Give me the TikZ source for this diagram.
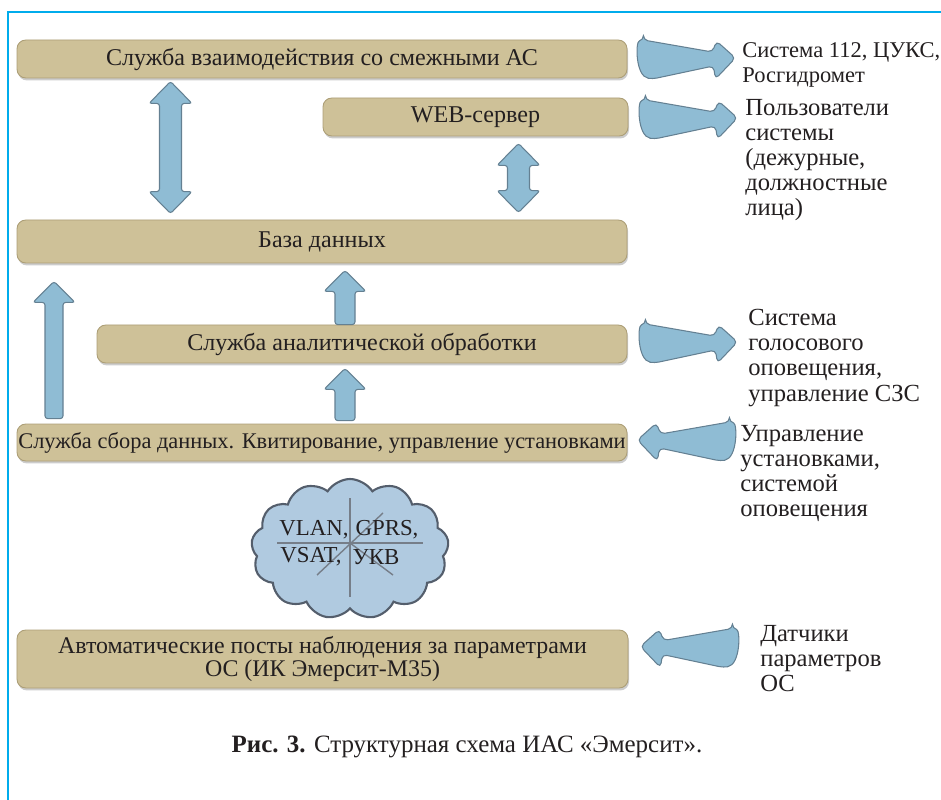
\documentclass[tikz,border=0pt]{standalone}
\usepackage{fontspec}
\setmainfont{Liberation Serif}
\usepackage{tikz}
\usetikzlibrary{positioning,calc,shapes.symbols,shadows}

\definecolor{frameblue}{RGB}{0,172,236}
\definecolor{boxtan}{RGB}{206,193,152}
\definecolor{boxedge}{RGB}{172,158,118}
\definecolor{arrfill}{RGB}{143,188,212}
\definecolor{arredge}{RGB}{100,128,146}
\definecolor{cloudfill}{RGB}{176,202,224}
\definecolor{cloudedge}{RGB}{84,94,108}
\definecolor{ink}{RGB}{35,31,32}

\tikzset{
  svcbox/.style={draw=boxedge, line width=0.5pt, fill=boxtan, rounded corners=5pt,
    inner sep=0pt, text=ink, font=\fontsize{13.7}{15}\selectfont,
    drop shadow={shadow xshift=0.6pt, shadow yshift=-1.4pt, opacity=0.4}},
  blockarr/.style={draw=arredge, fill=arrfill, line width=0.6pt, rounded corners=1.5pt},
  sidetext/.style={anchor=north west, inner sep=0pt, align=left, text=ink,
    font=\fontsize{14}{14.3}\selectfont},
  cloudtext/.style={inner sep=0pt, text=ink, font=\fontsize{13}{13}\selectfont},
  fatarr/.pic={
    \draw[blockarr, rounded corners=2.5pt] (-0.88,0.36) -- (0.5,0.12) -- (0.58,0.34) -- (0.96,0)
      -- (0.56,-0.42) -- (0.52,-0.16) -- (-0.7,-0.42) .. controls (-1.04,-0.36) and (-1.04,0.32) .. cycle;}
}

% x, shaft half width, upper node, lower node, top gap, bottom gap
\newcommand\dblarr[6]{
  \draw[blockarr] let \p1=(#3.south), \p2=(#4.north) in
    (#1cm,\y1-#5cm) -- (#1cm+0.43cm,\y1-#5cm-0.44cm) -- (#1cm+#2cm,\y1-#5cm-0.44cm)
    -- (#1cm+#2cm,\y2+#6cm+0.44cm) -- (#1cm+0.43cm,\y2+#6cm+0.44cm) -- (#1cm,\y2+#6cm)
    -- (#1cm-0.43cm,\y2+#6cm+0.44cm) -- (#1cm-#2cm,\y2+#6cm+0.44cm)
    -- (#1cm-#2cm,\y1-#5cm-0.44cm) -- (#1cm-0.43cm,\y1-#5cm-0.44cm) -- cycle;}
% x, shaft half width, lower node, upper node, top gap, bottom gap
\newcommand\uparr[6]{
  \draw[blockarr] let \p1=(#3.north), \p2=(#4.south) in
    (#1cm-#2cm,\y1+#6cm) -- (#1cm-#2cm,\y2-#5cm-0.42cm) -- (#1cm-0.42cm,\y2-#5cm-0.42cm)
    -- (#1cm,\y2-#5cm) -- (#1cm+0.42cm,\y2-#5cm-0.42cm) -- (#1cm+#2cm,\y2-#5cm-0.42cm)
    -- (#1cm+#2cm,\y1+#6cm) -- cycle;}

\begin{document}
\begin{tikzpicture}
  \useasboundingbox (0,0) rectangle (18.82,-16);
  \draw[frameblue, line width=1.7pt] (0.16,-16.2) -- (0.16,-0.24) -- (19,-0.24);

  \node[svcbox, minimum width=12.2cm, minimum height=0.76cm] (adj) at (6.44,-1.18) {Служба взаимодействия со смежными АС};
  \node[svcbox, minimum width=6.1cm, minimum height=0.76cm] (web) at (9.51,-2.34) {WEB-сервер};
  \node[svcbox, minimum width=12.2cm, minimum height=0.86cm] (db) at (6.44,-4.83) {База данных};
  \node[svcbox, minimum width=10.6cm, minimum height=0.76cm] (ana) at (7.24,-6.88) {Служба аналитической обработки};
  \node[svcbox, minimum width=12.2cm, minimum height=0.74cm, font=\fontsize{12.75}{15}\selectfont] (coll) at (6.44,-8.85)
    {Служба сбора данных. Квитирование, управление установками};
  \node[svcbox, minimum width=12.22cm, minimum height=1.16cm, align=center, font=\fontsize{13.6}{13.6}\selectfont] (posts) at (6.45,-13.18)
    {Автоматические посты наблюдения за параметрами\\ОС (ИК Эмерсит-М35)};

  \dblarr{3.41}{0.22}{adj}{db}{0.06}{0.12}
  \dblarr{10.37}{0.22}{web}{db}{0.14}{0.14}
  \uparr{1.08}{0.18}{coll}{db}{0.36}{0.1}
  \uparr{6.9}{0.2}{ana}{db}{0.14}{0.0}
  \uparr{6.9}{0.2}{coll}{ana}{0.1}{0.06}

  \pic at ($(adj.east)+(1.2,0.02)$) {fatarr};
  \pic at ($(web.east)+(1.22,-0.02)$) {fatarr};
  \pic at ($(ana.east)+(1.24,0.04)$) {fatarr};
  \pic[xscale=-1] at ($(coll.east)+(1.16,0.05)$) {fatarr};
  \pic[xscale=-1] at ($(posts.east)+(1.2,0.25)$) {fatarr};

  \node[sidetext, font=\fontsize{12.8}{14.3}\selectfont] (tadj) at (14.84,-0.84) {Система 112, ЦУКС,\\Росгидромет};
  \node[sidetext] (tweb) at (14.9,-1.98) {Пользователи\\системы\\(дежурные,\\должностные\\лица)};
  \node[sidetext] (tana) at (14.96,-6.18) {Система\\голосового\\оповещения,\\управление СЗС};
  \node[sidetext] (tcoll) at (14.8,-8.5) {Управление\\установками,\\системой\\оповещения};
  \node[sidetext] (tposts) at (15.2,-12.5) {Датчики\\параметров\\ОС};

  \node[cloud, cloud puffs=13, cloud puff arc=115, aspect=1.4, draw=cloudedge, fill=cloudfill,
    line width=1.2pt, minimum width=3.95cm, minimum height=2.8cm] (net) at (7.0,-10.98) {};
  \coordinate (hub) at (7.0,-10.86);
  \draw[cloudedge!80, line width=0.8pt] (7.0,-9.96) -- (7.0,-11.94);
  \draw[cloudedge!80, line width=0.8pt] (5.54,-10.86) -- (8.46,-10.86);
  \draw[cloudedge!80, line width=0.8pt] (6.34,-11.5) -- (7.66,-10.26);
  \draw[cloudedge!80, line width=0.8pt] (hub) -- (7.86,-11.5);
  \node[cloudtext] (vlan) at (6.28,-10.6) {VLAN,};
  \node[cloudtext] (gprs) at (7.74,-10.6) {GPRS,};
  \node[cloudtext] (vsat) at (6.22,-11.14) {VSAT,};
  \node[cloudtext] (ukv) at (7.52,-11.14) {УКВ};

  \node[text=ink, font=\fontsize{14.2}{15}\selectfont] (cap) at (9.34,-14.94)
    {\textbf{Рис. 3.} Структурная схема ИАС «Эмерсит».};
\end{tikzpicture}
\end{document}
